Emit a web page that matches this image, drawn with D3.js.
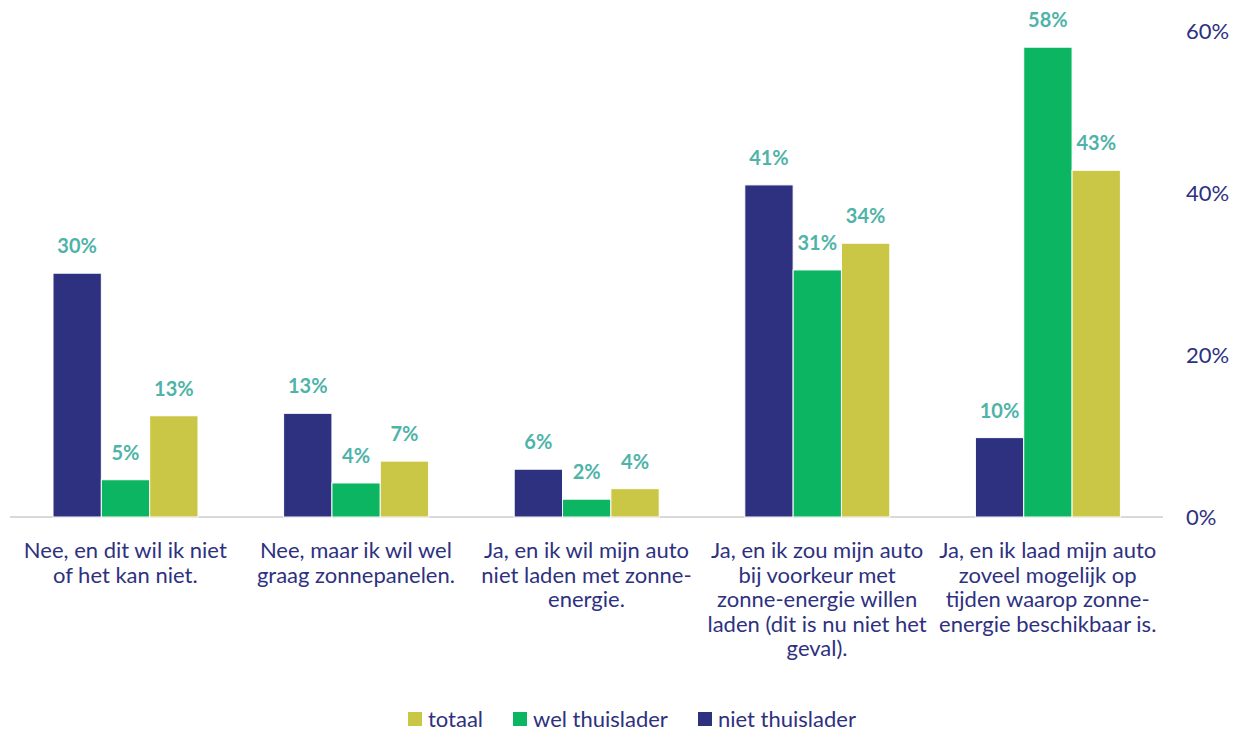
<!DOCTYPE html>
<html>
<head>
<meta charset="utf-8">
<script src="https://cdn.jsdelivr.net/npm/d3@7"></script>
<style>
  body { margin: 0; background: #fff; }
  svg { display: block; font-family: Lato, "Open Sans", sans-serif; }
</style>
</head>
<body>
<div id="chart"></div>
<script>
var categories = [
  "Nee, en dit wil ik niet\nof het kan niet.",
  "Nee, maar ik wil wel\ngraag zonnepanelen.",
  "Ja, en ik wil mijn auto\nniet laden met zonne-\nenergie.",
  "Ja, en ik zou mijn auto\nbij voorkeur met\nzonne-energie willen\nladen (dit is nu niet het\ngeval).",
  "Ja, en ik laad mijn auto\nzoveel mogelijk op\ntijden waarop zonne-\nenergie beschikbaar is."
];
var seriesNames = ["niet thuislader", "wel thuislader", "totaal"];
var nietThuislader = [30.1, 12.8, 5.9, 41.0, 9.8];
var welThuislader = [4.6, 4.2, 2.2, 30.5, 58.0];
var totaal = [12.5, 6.9, 3.5, 33.8, 42.8];
var yTicks = [0, 20, 40, 60];
var legendOrder = ["totaal", "wel thuislader", "niet thuislader"];

var colors = {"niet thuislader": "#2e3180", "wel thuislader": "#0bb562", "totaal": "#cbc746"};
var seriesValues = [nietThuislader, welThuislader, totaal];

var width = 1240, height = 731;
var plotLeft = 10, plotRight = 1163, plotTop = 31, base = 517;

var svg = d3.select("#chart").append("svg")
    .attr("width", width)
    .attr("height", height);

var x0 = d3.scaleBand().domain(d3.range(categories.length)).range([plotLeft, plotRight]).padding(0);
var x1 = d3.scaleBand().domain(seriesNames).range([43, 188]).padding(0);
var y = d3.scaleLinear().domain([0, 60]).range([base, plotTop]);

// right axis labels
svg.append("g").selectAll("text")
    .data(yTicks)
  .enter().append("text")
    .attr("x", 1186)
    .attr("y", function(d) { return y(d) + 8; })
    .attr("font-size", "22px")
    .attr("fill", "#2e3180")
    .text(function(d) { return d + "%"; });

// baseline
svg.append("line")
    .attr("x1", plotLeft).attr("x2", plotRight)
    .attr("y1", base).attr("y2", base)
    .attr("stroke", "#d9d9d9")
    .attr("stroke-width", 2);

var groups = svg.selectAll(".grp")
    .data(categories)
  .enter().append("g")
    .attr("class", "grp")
    .attr("transform", function(d, i) { return "translate(" + x0(i) + ",0)"; });

groups.each(function(c, i) {
  var g = d3.select(this);
  seriesNames.forEach(function(s, k) {
    var v = seriesValues[k][i];
    g.append("rect")
      .attr("x", x1(s))
      .attr("y", y(v))
      .attr("width", x1.bandwidth())
      .attr("height", base - y(v))
      .attr("fill", colors[s])
      .attr("stroke", "#fff")
      .attr("stroke-width", 1);
    g.append("text")
      .attr("x", x1(s) + x1.bandwidth() / 2)
      .attr("y", y(v) - 20)
      .attr("text-anchor", "middle")
      .attr("font-size", "20px")
      .attr("font-weight", "bold")
      .attr("fill", "#4fb3a9")
      .text(Math.round(v) + "%");
  });

  // category label
  var lines = c.split("\n");
  var t = g.append("text")
    .attr("text-anchor", "middle")
    .attr("font-size", "22px")
    .attr("fill", "#2e3180");
  lines.forEach(function(line, j) {
    t.append("tspan")
      .attr("x", x0.bandwidth() / 2)
      .attr("y", 558 + j * 24.5)
      .text(line);
  });
});

// legend
var legend = svg.append("g").attr("transform", "translate(0,719)");
var lx = [408, 513, 698];
legendOrder.forEach(function(s, k) {
  legend.append("rect")
    .attr("x", lx[k]).attr("y", -7)
    .attr("width", 14).attr("height", 14)
    .attr("fill", colors[s]);
  legend.append("text")
    .attr("x", lx[k] + 20).attr("y", 8)
    .attr("font-size", "22px")
    .attr("fill", "#2e3180")
    .text(s);
});
</script>
</body>
</html>
